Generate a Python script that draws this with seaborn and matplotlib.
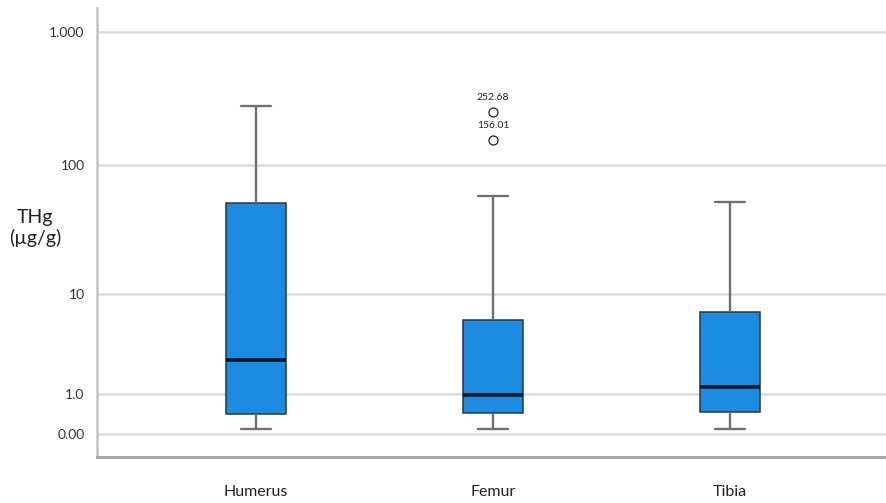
import numpy as np
import pandas as pd
import matplotlib
matplotlib.use("Agg")
import matplotlib.pyplot as plt
from matplotlib import cbook
import seaborn as sns

# Total mercury (THg, µg/g) measured per bone type
bones = ["Humerus", "Femur", "Tibia"]
humerus_thg = [0.09, 0.15, 0.27, 0.41, 0.88, 1.6, 2.57, 9.8, 24.3, 52.0, 118.4, 196.2, 279.5]
femur_thg = [0.09, 0.21, 0.33, 0.435, 0.58, 0.77, 0.95, 1.8, 3.4, 6.1, 58.7, 156.01, 252.68]
tibia_thg = [0.09, 0.18, 0.31, 0.46, 0.67, 0.92, 1.24, 2.1, 3.9, 7.13, 14.6, 27.5, 52.9]

y_ticks = [0, 1, 10, 100, 1000]
y_tick_labels = ["0.00", "1.0", "10", "100", "1.000"]

df = pd.DataFrame({
    "bone": np.repeat(bones, [len(humerus_thg), len(femur_thg), len(tibia_thg)]),
    "thg": np.concatenate([humerus_thg, femur_thg, tibia_thg]),
})


def fwd(v):
    return np.log10(np.asarray(v, dtype=float) + 1.0)


def inv(t):
    return 10.0 ** np.asarray(t, dtype=float) - 1.0


sns.set_style("white")
plt.rcParams["font.family"] = ["Lato", "DejaVu Sans"]

W, H = 887, 503
fig = plt.figure(figsize=(W / 100, H / 100), dpi=100)
ax = fig.add_axes([97 / W, 46 / H, 790 / W, 449 / H])
ax.set_yscale("function", functions=(fwd, inv))
ax.set_ylim(-0.327, 1510)

sns.boxplot(
    data=df, x="bone", y="thg", order=bones, ax=ax,
    width=0.253, color="#1b8ce2", saturation=1, linecolor="#2a3642",
    linewidth=1.1,
    medianprops=dict(color="#0d1620", linewidth=2.6),
    whiskerprops=dict(color="#707070", linewidth=1.7),
    capprops=dict(color="#707070", linewidth=1.7),
    flierprops=dict(marker="o", markerfacecolor="white", markeredgecolor="#222222",
                    markersize=6.5, markeredgewidth=0.9),
)

# label the outlying femur values
femur_stats = cbook.boxplot_stats([fwd(femur_thg)])[0]
for val in inv(femur_stats["fliers"]):
    ax.annotate(f"{val:.2f}", xy=(bones.index("Femur"), val), xytext=(0, 10.5),
                textcoords="offset points", ha="center", va="center",
                fontsize=7.5, color="#222222")

ax.set_xlim(-0.671, 2.662)
ax.set_yticks(y_ticks)
ax.set_yticklabels(y_tick_labels)
ax.minorticks_off()

ax.yaxis.grid(True, color="#dcdcdc", linewidth=1.8)
ax.xaxis.grid(False)
ax.set_axisbelow(True)

for side in ["top", "right"]:
    ax.spines[side].set_visible(False)
ax.spines["left"].set_color("#c2c2c2")
ax.spines["left"].set_linewidth(1.8)
ax.spines["bottom"].set_color("#a5a5a5")
ax.spines["bottom"].set_linewidth(2.2)

ax.tick_params(axis="y", length=0, pad=9, labelsize=10, labelcolor="#333333")
ax.tick_params(axis="x", length=0, pad=20, labelsize=11.5, labelcolor="#222222")

ax.set_xlabel("")
ax.set_ylabel("THg\n(µg/g)", rotation=0, fontsize=14, color="#222222",
              ha="center", va="center", linespacing=1.2)
ax.yaxis.set_label_coords(-0.078, 0.51)

fig.savefig("out.png", dpi=100)
